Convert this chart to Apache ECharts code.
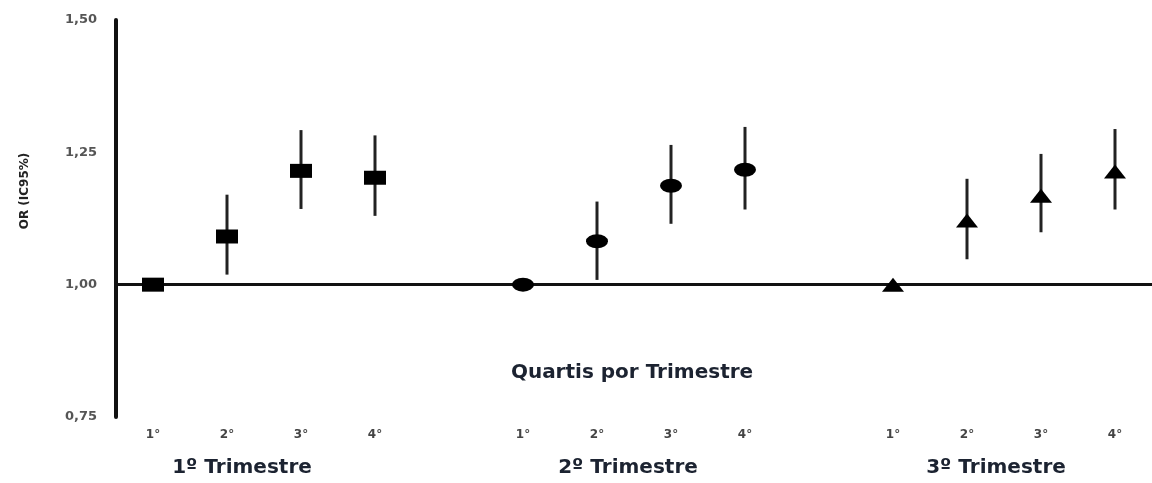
<!DOCTYPE html>
<html>
<head>
<meta charset="utf-8">
<script src="https://cdn.jsdelivr.net/npm/echarts@6/dist/echarts.min.js"></script>
<style>html,body{margin:0;padding:0;background:#fff}#c{width:1152px;height:483px}</style>
</head>
<body>
<div id="c"></div>
<script>
// ---- data ----
const quartileLabels = ['1°', '2°', '3°', '4°'];
const groupNames = ['1º Trimestre', '2º Trimestre', '3º Trimestre'];
const groupOffsets = [0, 5, 10];
const yTicks = [0.75, 1.00, 1.25, 1.50];

const t1OR   = [1.00, 1.091, 1.215, 1.202];
const t1Low  = [1.00, 1.019, 1.143, 1.130];
const t1High = [1.00, 1.170, 1.292, 1.282];

const t2OR   = [1.00, 1.082, 1.187, 1.217];
const t2Low  = [1.00, 1.009, 1.115, 1.142];
const t2High = [1.00, 1.157, 1.264, 1.298];

const t3OR   = [1.00, 1.121, 1.168, 1.214];
const t3Low  = [1.00, 1.048, 1.099, 1.142];
const t3High = [1.00, 1.200, 1.247, 1.294];

const referenceOR = 1.00;

// ---- build ----
const categories = [];
const tickText = [];
for (let i = 0; i < 14; i++) {
  categories.push('c' + i);
  tickText.push('');
}
groupOffsets.forEach(off => quartileLabels.forEach((q, j) => { tickText[off + j] = q; }));

function pts(off, vals) { return vals.map((v, j) => [off + j, v]); }
function bars(off, lo, hi) { return lo.map((l, j) => [off + j, l, hi[j]]); }

const allBars = [].concat(
  bars(groupOffsets[0], t1Low, t1High),
  bars(groupOffsets[1], t2Low, t2High),
  bars(groupOffsets[2], t3Low, t3High)
);

const chart = echarts.init(document.getElementById('c'));
const markerStyle = { color: '#000', opacity: 1 };
const option = {
  animation: false,
  grid: { left: 116, right: -2, top: 20, bottom: 66, containLabel: false },
  xAxis: {
    type: 'category',
    data: categories,
    boundaryGap: true,
    axisLine: { show: false },
    axisTick: { show: false },
    splitLine: { show: false },
    axisLabel: {
      interval: 0,
      margin: 12,
      fontSize: 12,
      fontWeight: 'bold',
      fontFamily: 'DejaVu Sans',
      color: '#444',
      formatter: (v, i) => tickText[i]
    }
  },
  yAxis: {
    type: 'value',
    min: yTicks[0],
    max: yTicks[yTicks.length - 1],
    interval: 0.25,
    axisLine: { show: true, lineStyle: { color: '#111', width: 4 } },
    axisTick: { show: false },
    splitLine: { show: false },
    axisLabel: {
      margin: 19,
      fontSize: 13,
      fontWeight: 'bold',
      fontFamily: 'DejaVu Sans',
      color: '#555',
      formatter: v => v.toFixed(2).replace('.', ',')
    }
  },
  series: [
    {
      type: 'custom',
      z: 2,
      data: allBars,
      encode: { x: 0, y: [1, 2] },
      renderItem: function (params, api) {
        const x = api.value(0);
        const p1 = api.coord([x, api.value(1)]);
        const p2 = api.coord([x, api.value(2)]);
        return {
          type: 'line',
          shape: { x1: p1[0], y1: p1[1], x2: p2[0], y2: p2[1] },
          style: { stroke: '#222', lineWidth: 3 }
        };
      },
      markLine: {
        silent: true,
        symbol: 'none',
        label: { show: false },
        lineStyle: { color: '#111', width: 3, type: 'solid' },
        data: [{ yAxis: referenceOR }]
      }
    },
    { type: 'scatter', z: 5, symbol: 'rect', symbolSize: [22, 14], itemStyle: markerStyle, data: pts(groupOffsets[0], t1OR) },
    { type: 'scatter', z: 5, symbol: 'circle', symbolSize: [22, 14], itemStyle: markerStyle, data: pts(groupOffsets[1], t2OR) },
    { type: 'scatter', z: 5, symbol: 'triangle', symbolSize: [22, 14], itemStyle: markerStyle, data: pts(groupOffsets[2], t3OR) }
  ]
};
chart.setOption(option);

// ---- text labels positioned from the axis scale ----
const labelFont = { fontSize: 20, fontWeight: 'bold', fontFamily: 'DejaVu Sans', fill: '#1c2331' };
const groupShift = [-22, -6, -8];
const graphics = [];
groupOffsets.forEach((off, g) => {
  const a = chart.convertToPixel({ xAxisIndex: 0 }, off);
  const b = chart.convertToPixel({ xAxisIndex: 0 }, off + 3);
  graphics.push({
    type: 'text',
    x: (a + b) / 2 + groupShift[g],
    y: 468,
    style: Object.assign({ text: groupNames[g], align: 'center', verticalAlign: 'middle' }, labelFont)
  });
});
const first = chart.convertToPixel({ xAxisIndex: 0 }, 0);
const last = chart.convertToPixel({ xAxisIndex: 0 }, 13);
graphics.push({
  type: 'text',
  x: (first + last) / 2 - 2,
  y: 373,
  style: Object.assign({ text: 'Quartis por Trimestre', align: 'center', verticalAlign: 'middle' }, labelFont)
});
graphics.push({
  type: 'text',
  x: 25,
  y: 191,
  rotation: Math.PI / 2,
  style: { text: 'OR (IC95%)', align: 'center', verticalAlign: 'middle', fontSize: 12, fontWeight: 'bold', fontFamily: 'DejaVu Sans', fill: '#222' }
});
chart.setOption({ graphic: graphics });
</script>
</body>
</html>
